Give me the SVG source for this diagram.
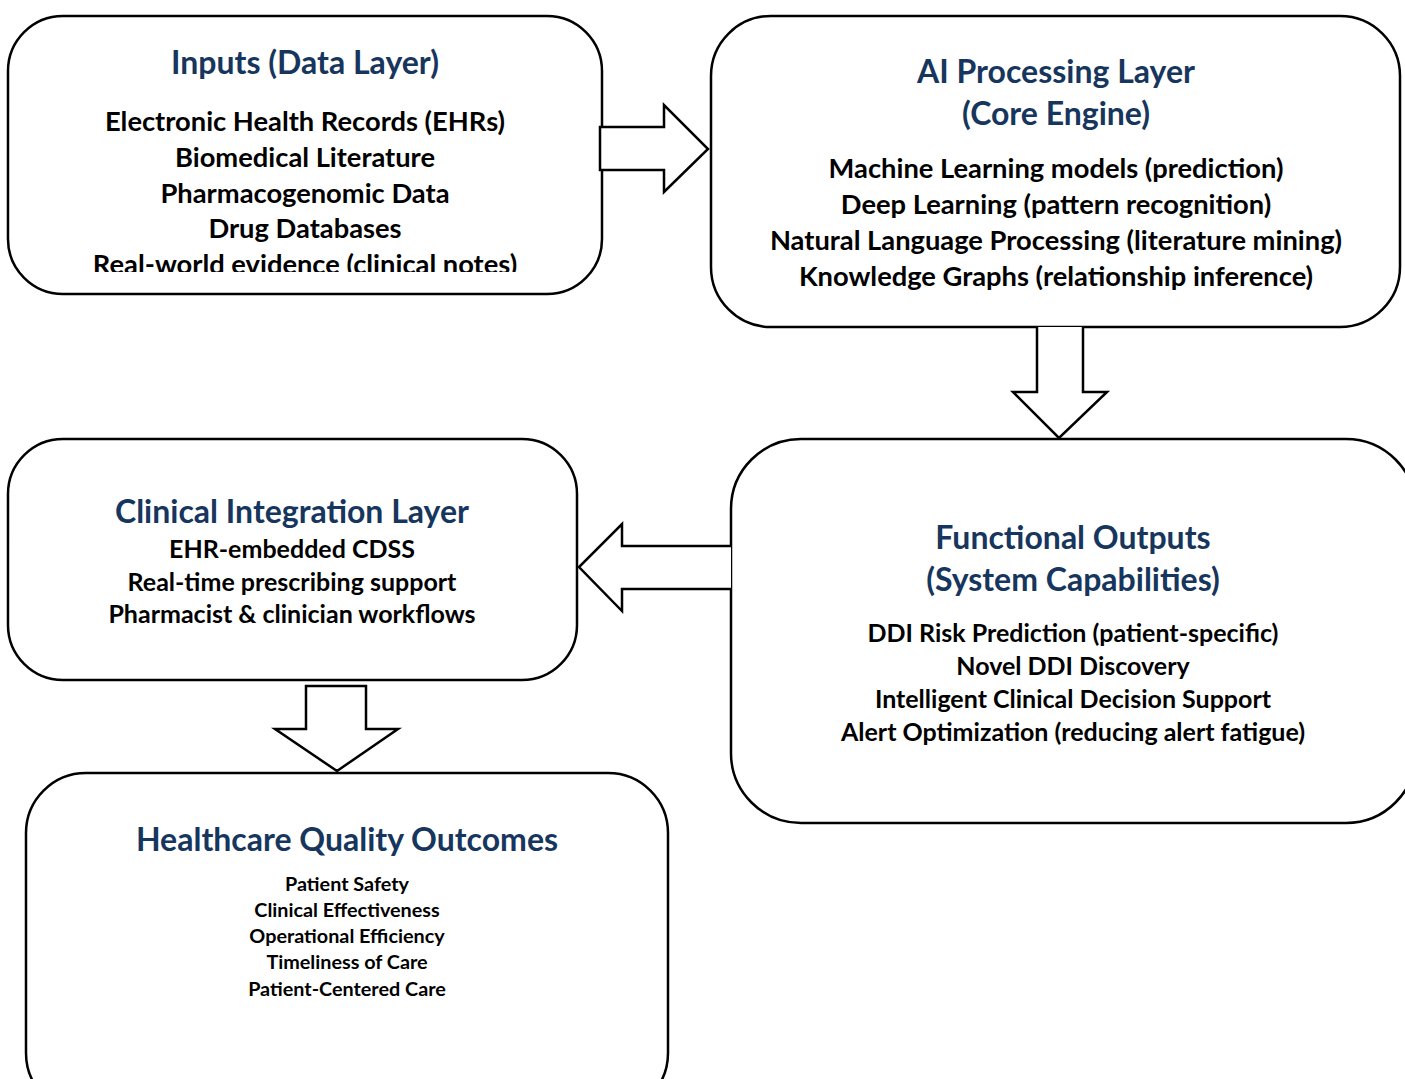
<svg xmlns="http://www.w3.org/2000/svg" width="1405" height="1079" viewBox="0 0 1405 1079">
<style>
.box{fill:#fff;stroke:#000;stroke-width:2.5}
.arr{fill:#fff;stroke:#000;stroke-width:2.5;stroke-linejoin:miter}
text{font-family:Lato,"Open Sans","Liberation Sans",sans-serif;font-weight:bold;text-anchor:middle}
.t{fill:#17365D;font-size:32px}
.b{fill:#000;font-size:27.3px}
.m{fill:#000;font-size:25px}
.s{fill:#000;font-size:19.8px}
</style>
<defs>
<clipPath id="c1"><rect x="0" y="0" width="700" height="272"/></clipPath>
</defs>
<rect width="1405" height="1079" fill="#fff"/>
<g id="inputs">
<rect class="box" x="8" y="16" width="594" height="278" rx="55"/>
<text class="t" x="305" y="74">Inputs (Data Layer)</text>
<text class="b" x="305" y="131">Electronic Health Records (EHRs)</text>
<text class="b" x="305" y="167">Biomedical Literature</text>
<text class="b" x="305" y="203">Pharmacogenomic Data</text>
<text class="b" x="305" y="238">Drug Databases</text>
<text class="b" x="305" y="274" clip-path="url(#c1)">Real-world evidence (clinical notes)</text>
</g>
<g id="ai">
<rect class="box" x="711" y="16" width="689" height="311" rx="60"/>
<text class="t" x="1056" y="83">AI Processing Layer</text>
<text class="t" x="1056" y="125">(Core Engine)</text>
<text class="b" x="1056" y="178">Machine Learning models (prediction)</text>
<text class="b" x="1056" y="214">Deep Learning (pattern recognition)</text>
<text class="b" x="1056" y="250">Natural Language Processing (literature mining)</text>
<text class="b" x="1056" y="286">Knowledge Graphs (relationship inference)</text>
</g>
<g id="outputs">
<rect class="box" x="731" y="439" width="685" height="384" rx="70"/>
<text class="t" x="1073" y="549">Functional Outputs</text>
<text class="t" x="1073" y="591">(System Capabilities)</text>
<text class="m" x="1073" y="642">DDI Risk Prediction (patient-specific)</text>
<text class="m" x="1073" y="675">Novel DDI Discovery</text>
<text class="m" x="1073" y="708">Intelligent Clinical Decision Support</text>
<text class="m" x="1073" y="741">Alert Optimization (reducing alert fatigue)</text>
</g>
<g id="clinical">
<rect class="box" x="8" y="439" width="569" height="241" rx="55"/>
<text class="t" x="292" y="523">Clinical Integration Layer</text>
<text class="m" x="292" y="558">EHR-embedded CDSS</text>
<text class="m" x="292" y="591">Real-time prescribing support</text>
<text class="m" x="292" y="623">Pharmacist &amp; clinician workflows</text>
</g>
<g id="outcomes">
<rect class="box" x="26" y="773" width="642" height="340" rx="60"/>
<text class="t" x="347" y="851">Healthcare Quality Outcomes</text>
<text class="s" x="347" y="891">Patient Safety</text>
<text class="s" x="347" y="917">Clinical Effectiveness</text>
<text class="s" x="347" y="943">Operational Efficiency</text>
<text class="s" x="347" y="969">Timeliness of Care</text>
<text class="s" x="347" y="996">Patient-Centered Care</text>
</g>
<g id="connectors">
<path class="arr" d="M600,127 H664 V105 L708,149 L664,192 V170 H600 Z"/>
<path class="arr" d="M1037,327 V392 H1013 L1059,438 L1107,392 H1083 V327"/>
<path class="arr" d="M731,546 H622 V524 L579,567 L622,611 V589 H731"/>
<path class="arr" d="M306,686 H366 V729 H398 L337,771 L275,729 H306 Z"/>
</g>
</svg>
